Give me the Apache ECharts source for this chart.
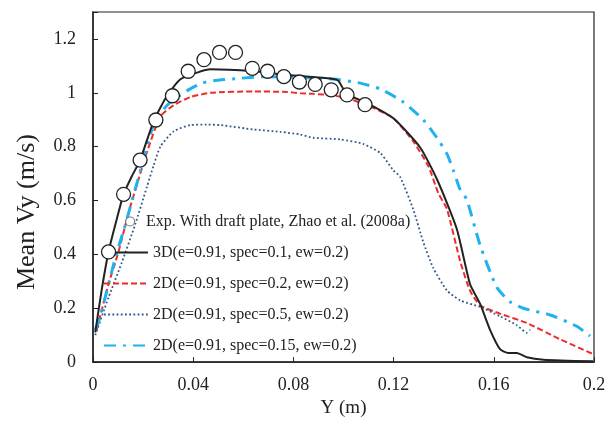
<!DOCTYPE html>
<html><head><meta charset="utf-8">
<script src="https://cdn.jsdelivr.net/npm/echarts@6/dist/echarts.min.js"></script>
<style>html,body{margin:0;padding:0;background:#fff}#c{width:609px;height:423px}</style>
</head><body><div id="c"></div>
<script>
// Experimental data
const expX=[0.0062,0.0122,0.0188,0.0251,0.0317,0.038,0.0443,0.0505,0.0569,0.0636,0.0697,0.0762,0.0824,0.0887,0.0951,0.1014,0.1086];
const expY=[0.409,0.623,0.75,0.899,0.989,1.08,1.123,1.15,1.15,1.091,1.08,1.06,1.04,1.031,1.011,0.992,0.956];
// 3D(e=0.91, spec=0.1, ew=0.2)
const s3dX=[0.0009,0.0035,0.0062,0.0089,0.0122,0.0155,0.0188,0.0242,0.0296,0.0349,0.0416,0.0469,0.064,0.0748,0.0828,0.0959,0.0979,0.1014,0.1094,0.1198,0.1306,0.1374,0.1452,0.1505,0.1545,0.1585,0.1625,0.1658,0.1692,0.1732,0.1798,0.1996];
const s3dY=[0.11,0.27,0.41,0.51,0.623,0.69,0.75,0.894,0.99,1.05,1.075,1.087,1.08,1.069,1.062,1.051,1.045,0.995,0.962,0.906,0.797,0.677,0.495,0.29,0.217,0.12,0.048,0.034,0.034,0.018,0.009,0.003];
// 2D(e=0.91, spec=0.2, ew=0.2)
const s2aX=[0.0015,0.0062,0.0102,0.0142,0.0181,0.0215,0.0269,0.0322,0.0389,0.0469,0.064,0.0774,0.0828,0.0879,0.0959,0.1014,0.1094,0.1198,0.1278,0.134,0.1378,0.1413,0.1466,0.1505,0.1545,0.1625,0.1732,0.1864,0.1996];
const s2aY=[0.12,0.29,0.41,0.555,0.676,0.779,0.912,0.954,0.984,1.0,1.005,1.003,0.998,0.996,0.99,0.98,0.954,0.906,0.82,0.725,0.628,0.568,0.374,0.266,0.211,0.18,0.145,0.085,0.03];
// 2D(e=0.91, spec=0.5, ew=0.2)
const s2bX=[0.0009,0.0062,0.0115,0.0168,0.0215,0.0242,0.0269,0.0322,0.0389,0.0455,0.0508,0.064,0.0748,0.0828,0.0879,0.0987,0.1079,0.1147,0.1198,0.1226,0.1278,0.1318,0.1358,0.1413,0.1466,0.1545,0.1625,0.1692,0.1732,0.1745];
const s2bY=[0.1,0.24,0.37,0.51,0.65,0.73,0.8,0.857,0.88,0.882,0.88,0.864,0.855,0.845,0.833,0.827,0.81,0.776,0.713,0.688,0.568,0.447,0.35,0.266,0.229,0.205,0.17,0.137,0.109,0.12];
// 2D(e=0.91, spec=0.15, ew=0.2)
const s2cX=[0.0009,0.0029,0.0089,0.0128,0.0168,0.0201,0.0242,0.0296,0.0376,0.0435,0.0481,0.0588,0.0695,0.0828,0.0959,0.1067,0.1147,0.1238,0.1318,0.1373,0.1413,0.1438,0.1466,0.1492,0.1545,0.1612,0.1665,0.1718,0.1825,0.1931,0.1984];
const s2cY=[0.12,0.17,0.387,0.507,0.64,0.749,0.882,0.954,1.008,1.036,1.045,1.054,1.06,1.057,1.051,1.036,1.014,0.966,0.9,0.833,0.773,0.713,0.64,0.604,0.435,0.278,0.224,0.2,0.175,0.133,0.097];

const names=['Exp. With draft plate, Zhao et al. (2008a)','3D(e=0.91, spec=0.1, ew=0.2)','2D(e=0.91, spec=0.2, ew=0.2)','2D(e=0.91, spec=0.5, ew=0.2)','2D(e=0.91, spec=0.15, ew=0.2)'];
const xTicks=[0,0.04,0.08,0.12,0.16,0.2];
const yTicks=[0,0.2,0.4,0.6,0.8,1,1.2];

const zip=(a,b)=>a.map((v,i)=>[v,b[i]]);
const FONT='Liberation Serif';
const chart=echarts.init(document.getElementById('c'));
chart.setOption({
  animation:false,
  backgroundColor:'#fff',
  grid:{left:93,right:15,top:12,bottom:53,show:true,borderColor:'#222',borderWidth:1.2},
  xAxis:{type:'value',min:0,max:0.2,interval:0.04,
    name:'Y (m)',nameLocation:'middle',nameGap:36,
    nameTextStyle:{fontFamily:FONT,fontSize:19,color:'#222'},
    axisLine:{lineStyle:{color:'#222',width:1.5}},
    axisTick:{inside:true,length:5,lineStyle:{color:'#222'}},
    axisLabel:{fontFamily:FONT,fontSize:18,color:'#222',margin:14,
      formatter:v=>xTicks.includes(+v.toFixed(4))?String(+v.toFixed(4)):''},
    splitLine:{show:false}},
  yAxis:{type:'value',min:0,max:1.3,interval:0.2,
    name:'Mean Vy (m/s)',nameLocation:'middle',nameGap:53,
    nameTextStyle:{fontFamily:FONT,fontSize:26,color:'#222',padding:[0,50,0,0]},
    axisLine:{lineStyle:{color:'#222',width:1.5}},
    axisTick:{inside:true,length:5,lineStyle:{color:'#222'}},
    axisLabel:{fontFamily:FONT,fontSize:18,color:'#222',margin:17,
      formatter:v=>yTicks.includes(+v.toFixed(4))?String(+v.toFixed(4)):''},
    splitLine:{show:false}},
  legend:[
    {data:[names[0]],left:120,top:208,itemWidth:22,itemHeight:9,
     itemStyle:{borderColor:'#777',borderWidth:1.2,color:'#fff'},
     textStyle:{fontFamily:FONT,fontSize:16,color:'#222',lineHeight:17}},
    {data:names.slice(1),orient:'vertical',left:98,top:239,itemWidth:44,itemHeight:14,itemGap:14,
     itemStyle:{opacity:0},
     textStyle:{fontFamily:FONT,fontSize:16,color:'#222',lineHeight:17}}
  ],
  series:[
    {name:names[1],type:'line',data:zip(s3dX,s3dY),symbol:'none',smooth:0.2,z:3,
     lineStyle:{color:'#222',width:2},itemStyle:{color:'#222'}},
    {name:names[2],type:'line',data:zip(s2aX,s2aY),symbol:'none',smooth:0.2,z:2,
     lineStyle:{color:'#ee2b2b',width:2,type:[6,3]},itemStyle:{color:'#ee2b2b'}},
    {name:names[3],type:'line',data:zip(s2bX,s2bY),symbol:'none',smooth:0.2,z:2,
     lineStyle:{color:'#30598a',width:1.8,type:[1.8,2.4]},itemStyle:{color:'#30598a'}},
    {name:names[4],type:'line',data:zip(s2cX,s2cY),symbol:'none',smooth:0.2,z:2,
     lineStyle:{color:'#1fb2ee',width:3,type:[12,7,3,7]},itemStyle:{color:'#1fb2ee'}},
    {name:names[0],type:'scatter',data:zip(expX,expY),symbol:'circle',symbolSize:14,z:5,
     itemStyle:{color:'#fff',borderColor:'#222',borderWidth:1.3,opacity:1}}
  ]
});
</script></body></html>
